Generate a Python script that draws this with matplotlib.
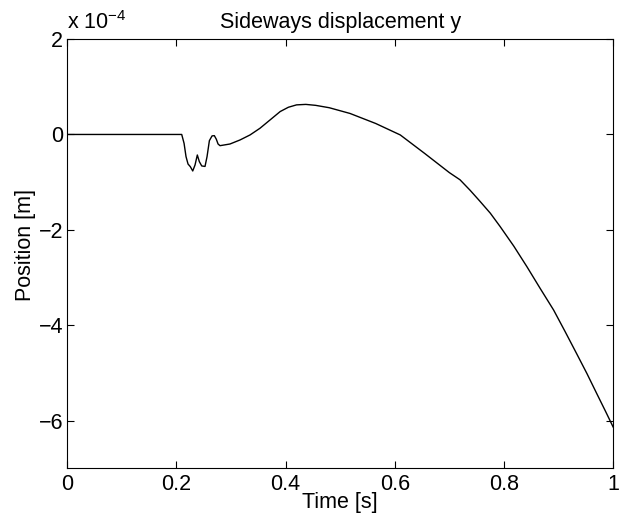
import matplotlib
matplotlib.use("Agg")
import matplotlib.pyplot as plt
from matplotlib.ticker import FuncFormatter

# time [s] and sideways position [1e-4 m]
t = [0.0, 0.10, 0.2096, 0.2139, 0.2175, 0.2212, 0.2254, 0.2298, 0.234, 0.2382,
     0.2419, 0.2463, 0.2523, 0.256, 0.2603, 0.2652, 0.2694, 0.273, 0.2762,
     0.2798, 0.298, 0.3165, 0.3348, 0.353, 0.371, 0.390, 0.405, 0.420, 0.437,
     0.455, 0.480, 0.518, 0.565, 0.610, 0.655, 0.700, 0.7195, 0.738, 0.756,
     0.775, 0.793, 0.818, 0.842, 0.866, 0.891, 0.912, 0.933, 0.952, 0.970,
     0.986, 1.0]
y = [0.0, 0.0, 0.0, -0.185, -0.465, -0.62, -0.675, -0.765, -0.64, -0.43,
     -0.57, -0.66, -0.67, -0.465, -0.13, -0.03, -0.025, -0.10, -0.20,
     -0.235, -0.20, -0.115, -0.01, 0.13, 0.30, 0.48, 0.57, 0.62, 0.63,
     0.61, 0.56, 0.44, 0.23, -0.01, -0.40, -0.80, -0.95, -1.17, -1.40,
     -1.65, -1.93, -2.34, -2.77, -3.22, -3.68, -4.13, -4.59, -5.01, -5.43,
     -5.80, -6.13]
y = [v * 1e-4 for v in y]

xticks = [0, 0.2, 0.4, 0.6, 0.8, 1]
yticks = [-6e-4, -4e-4, -2e-4, 0, 2e-4]

plt.rcParams['font.family'] = ['Liberation Sans', 'DejaVu Sans']
plt.rcParams['font.size'] = 15.5

fig = plt.figure(figsize=(6.38, 5.21), dpi=100)
ax = fig.add_axes([0.1055, 0.1008, 0.8555, 0.8243])
ax.plot(t, y, color='black', linewidth=1.0)

ax.set_xlim(0, 1)
ax.set_ylim(-7e-4, 2e-4)
ax.set_xticks(xticks)
ax.set_yticks(yticks)
ax.xaxis.set_major_formatter(FuncFormatter(lambda v, p: '%g' % v))
ax.yaxis.set_major_formatter(FuncFormatter(lambda v, p: '%g' % round(v / 1e-4)
                                           if v >= 0 else '\u2212%g' % round(-v / 1e-4)))
ax.tick_params(direction='in', length=5, top=True, right=True, width=0.8)
ax.tick_params(axis='x', pad=4)
ax.tick_params(axis='y', pad=3)
for s in ax.spines.values():
    s.set_linewidth(0.8)

# MATLAB-style exponent label above the y axis
ax.text(0.0, 1.012, 'x 10$^{\\mathregular{\u22124}}$', transform=ax.transAxes,
        ha='left', va='bottom')
ax.set_title('Sideways displacement y', fontsize=15.5, pad=8)
ax.set_xlabel('Time [s]', labelpad=-2)
ax.set_ylabel('Position [m]')
ax.yaxis.set_label_coords(-0.058, 0.52)

fig.savefig('out.png', dpi=100)
